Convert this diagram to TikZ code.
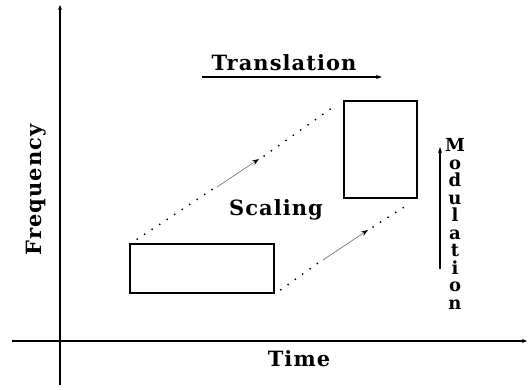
\documentclass[tikz,border=0pt]{standalone}
\usepackage{fontspec}
\setmainfont{DejaVu Serif}
\newfontfamily\lblfont[LetterSpace=5]{DejaVu Serif Bold}
\newfontfamily\modfont{DejaVu Serif Bold}
\usetikzlibrary{arrows.meta}
\begin{document}
\begin{tikzpicture}[x=1pt,y=-1pt,
  axis/.style={line width=1.8pt,-{Stealth[length=5pt,width=4pt]}},
  box/.style={draw,line width=1.6pt,minimum width=#1,inner sep=0pt},
  lbl/.style={font=\lblfont\fontsize{21}{24}\selectfont,inner sep=0pt},
  dots/.style={line width=2pt,line cap=round,dash pattern=on 0pt off 9pt},
  midarrow/.style={draw=gray,line width=0.8pt,-{Stealth[length=7pt,width=5pt,black]}},
  dirarrow/.style={line width=1.6pt,-{Stealth[length=6pt,width=4pt]}}]
\useasboundingbox (0,0) rectangle (528,390);
% axes
\coordinate (yb) at (60,385);
\coordinate (yt) at (60,5);
\coordinate (xl) at (12,341);
\coordinate (xr) at (527,341);
\draw[axis] (yb) -- (yt);
\draw[axis] (xl) -- (xr);
% boxes
\node[box=144pt,minimum height=49pt] (small) at (202,268.5) {};
\node[box=73pt,minimum height=97pt] (tall) at (380.5,149.5) {};
% dotted connectors
\coordinate (a1) at ([shift={(8pt,4pt)}]small.north west);
\coordinate (a2) at (213,189);
\coordinate (a3) at (217,187);
\coordinate (a4) at (259,159);
\coordinate (a5) at (264,156);
\coordinate (a6) at ([shift={(-6pt,-4pt)}]tall.north west);
\draw[dots] (a1) -- (a2);
\draw[dots] (a5) -- (a6);
\draw[midarrow] (a3) -- (a4);
\coordinate (b1) at ([shift={(6pt,4pt)}]small.south east);
\coordinate (b2) at (318,263);
\coordinate (b3) at (323,260);
\coordinate (b4) at (368,230);
\coordinate (b5) at (373,227);
\coordinate (b6) at ([shift={(-7pt,-4pt)}]tall.south east);
\draw[dots] (b1) -- (b2);
\draw[dots] (b5) -- (b6);
\draw[midarrow] (b3) -- (b4);
% labels
\node[lbl] (trans) at (284,63) {Translation};
\coordinate (t1) at (202,77);
\coordinate (t2) at (382,77);
\draw[dirarrow] (t1) -- (t2);
\node[lbl] (scal) at (276,210) {Scaling};
\node[lbl] (time) at (299,359) {Time};
\node[lbl,rotate=90] (freq) at (36,190) {Frequency};
\node[font=\modfont\fontsize{18}{17.5}\selectfont,align=center,inner sep=0pt] (mod) at (455,224) {M\\o\\d\\u\\l\\a\\t\\i\\o\\n};
\coordinate (m1) at (440,269);
\coordinate (m2) at (440,147);
\draw[dirarrow] (m1) -- (m2);
\end{tikzpicture}
\end{document}
